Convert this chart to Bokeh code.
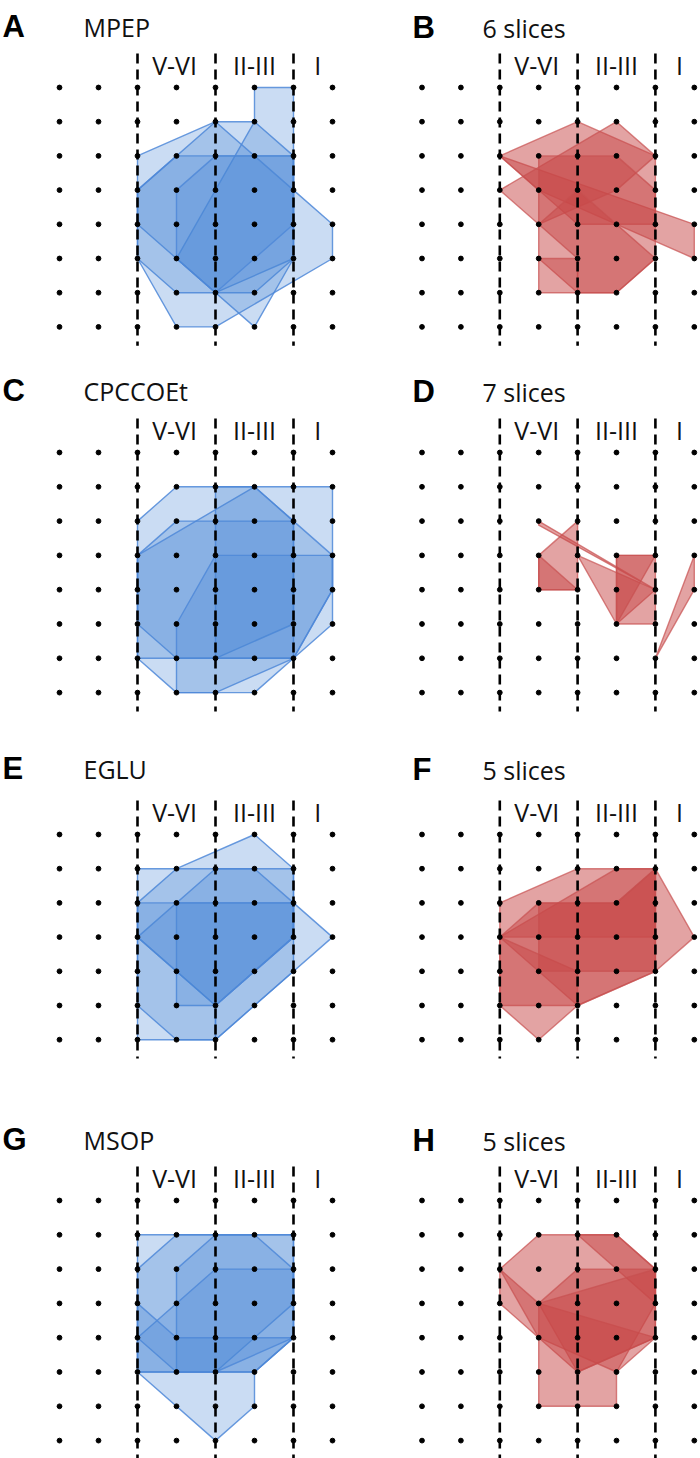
from bokeh.plotting import figure
from bokeh.layouts import column, row
from bokeh.models import Range1d
from bokeh.core.properties import value
from bokeh.embed import file_html
from bokeh.resources import INLINE

# ---------------- data (grid coordinates: column index, row index from top) ----------------
N_COLS = 8
BOUNDARY_COLS = [2, 4, 6]
LAYER_LABELS = ["V-VI", "II-III", "I"]
LAYER_LABEL_COLS = [2.95, 5.0, 6.62]

panel_letters = ["A", "B", "C", "D", "E", "F", "G", "H"]
panel_titles = ["MPEP", "6 slices", "CPCCOEt", "7 slices", "EGLU", "5 slices", "MSOP", "5 slices"]
panel_rows = [8, 8, 8, 8, 7, 7, 8, 8]
panel_kind = ["blue", "red", "blue", "red", "blue", "red", "blue", "red"]

poly_A = [
    [(2, 2), (4, 1), (5, 1), (6, 2), (6, 5), (5, 6), (3, 6), (2, 5)],
    [(2, 3), (3, 2), (6, 2), (6, 5), (4, 6), (2, 4)],
    [(5, 1), (5, 0), (6, 0), (6, 5), (5, 7), (3, 5)],
    [(2, 5), (2, 3), (4, 1), (6, 3), (7, 4), (7, 5), (4, 7), (3, 7)],
    [(3, 3), (4, 2), (6, 2), (6, 4), (4, 6), (3, 5)],
]
poly_B = [
    [(2, 2), (7, 4), (7, 5), (3, 3)],
    [(2, 2), (4, 1), (6, 2), (6, 4), (4, 4)],
    [(2, 3), (5, 1), (6, 2), (5, 3), (3, 4)],
    [(3, 2), (5, 2), (6, 3), (6, 5), (5, 6), (4, 6), (3, 5)],
    [(3, 5), (4, 5), (4, 6), (3, 6)],
    [(3, 4), (4, 3), (6, 5), (5, 6), (4, 6), (4, 5)],
]
poly_C = [
    [(2, 2), (3, 1), (7, 1), (7, 5), (6, 6), (5, 7), (3, 7), (2, 6)],
    [(2, 3), (3, 2), (6, 2), (6, 6), (3, 6), (2, 5)],
    [(2, 3), (5, 1), (6, 2), (6, 5), (4, 6), (2, 6)],
    [(4, 1), (5, 1), (6, 2), (7, 3), (7, 4), (6, 6), (4, 6)],
    [(3, 5), (4, 3), (7, 3), (7, 4), (6, 6), (4, 7), (3, 7)],
]
poly_D = [
    [(3, 2), (6, 4), (3, 2.12)],
    [(3, 3), (4, 2), (4, 4), (3, 4)],
    [(3, 3), (4, 4), (3, 4)],
    [(4, 3), (6, 4), (5, 5)],
    [(5, 3), (6, 3), (6, 5), (5, 5)],
    [(5, 3), (6, 3), (5, 5)],
    [(6, 6), (7, 3), (7, 4)],
]
poly_E = [
    [(2, 2), (3, 1), (5, 0), (6, 1), (6, 3), (5, 4), (4, 5), (2, 3)],
    [(2, 1), (6, 1), (6, 4), (4, 6), (2, 6)],
    [(2, 3), (4, 1), (5, 1), (6, 2), (7, 3), (4, 6), (4, 5)],
    [(3, 2), (6, 2), (6, 3), (4, 5), (3, 5)],
    [(2, 2), (6, 2), (6, 3), (4, 5), (4, 6), (3, 6), (2, 5)],
]
poly_F = [
    [(2, 2), (4, 1), (6, 1), (7, 3), (6, 4), (4, 5), (3, 5), (2, 5)],
    [(2, 3), (5, 1), (6, 1), (6, 3), (5, 3)],
    [(2, 3), (3, 2), (5, 2), (6, 1), (6, 4), (4, 5)],
    [(2, 3), (4, 4), (4, 5), (3, 6), (2, 5)],
    [(3, 2), (5, 2), (6, 1), (6, 4), (3, 4)],
]
poly_G = [
    [(2, 1), (6, 1), (6, 4), (5, 5), (2, 5)],
    [(2, 2), (3, 1), (6, 1), (6, 4), (5, 5), (5, 6), (4, 7), (2, 5)],
    [(3, 2), (4, 1), (5, 1), (6, 2), (6, 3), (4, 5), (3, 5)],
    [(2, 4), (4, 2), (6, 2), (6, 4), (5, 5), (3, 5)],
    [(2, 3), (3, 4), (6, 4), (4, 5), (3, 5), (2, 5)],
]
poly_H = [
    [(2, 2), (3, 1), (5, 1), (6, 2), (6, 3), (5, 5), (3, 4), (2, 3)],
    [(4, 1), (5, 1), (6, 2), (6, 3)],
    [(3, 3), (4, 2), (6, 2), (6, 4), (4, 5)],
    [(2, 2), (3, 3), (6, 4), (4, 5), (3, 4)],
    [(3, 3), (6, 2), (6, 4), (5, 5), (5, 6), (3, 6)],
]
panel_polys = [poly_A, poly_B, poly_C, poly_D, poly_E, poly_F, poly_G, poly_H]

# ---------------- layout geometry (reference pixel space 700 x 1458) ----------------
col_bounds = [(0, 350), (350, 700)]
row_bounds = [(0, 356), (356, 722), (722, 1082), (1082, 1458)]
col0_x = [59.0, 421.5]
col_dx = [39.0, 38.9]
row0_y = [87.0, 452.0, 834.0, 1200.0]
row_dy = [34.2, 34.3, 34.2, 34.3]
letter_x = [2.0, 412.0]
title_x = [83.0, 482.0]
title_base = [26.0, 390.0, 768.0, 1139.0]

STYLE = {
    "blue": dict(fill="#4a86d6", fill_alpha=0.29, line="#4f88d8", line_alpha=0.85),
    "red": dict(fill="#c84848", fill_alpha=0.5, line="#c85050", line_alpha=0.7),
}


def make_panel(i):
    r, c = divmod(i, 2)
    xl, xr = col_bounds[c]
    yt, yb = row_bounds[r]
    x0, dx = col0_x[c], col_dx[c]
    y0, dy = row0_y[r], row_dy[r]

    def gx(px):
        return (px - x0) / dx

    def gy(py):
        return (py - y0) / dy

    p = figure(width=xr - xl, height=yb - yt,
               x_range=Range1d(gx(xl), gx(xr)),
               y_range=Range1d(gy(yb), gy(yt)),
               toolbar_location=None, output_backend="svg",
               x_axis_type=None, y_axis_type=None,
               min_border=0, outline_line_color=None)
    p.grid.visible = False
    p.background_fill_color = "white"
    p.border_fill_color = "white"

    st = STYLE[panel_kind[i]]
    polys = panel_polys[i]
    p.patches([[v[0] for v in poly] for poly in polys],
              [[v[1] for v in poly] for poly in polys],
              fill_color=st["fill"], fill_alpha=st["fill_alpha"],
              line_color=st["line"], line_alpha=st["line_alpha"], line_width=1.4)

    nrows = panel_rows[i]
    for bc in BOUNDARY_COLS:
        p.line([bc, bc], [gy(y0 - 34), nrows - 1 + 0.55], line_color="black",
               line_width=2.6, line_dash="10 6")

    xs = [cx for ry in range(nrows) for cx in range(N_COLS)]
    ys = [ry for ry in range(nrows) for cx in range(N_COLS)]
    p.scatter(xs, ys, size=4.8, color="black")

    p.text(x=LAYER_LABEL_COLS, y=[gy(y0 - 23)] * len(LAYER_LABELS), text=LAYER_LABELS,
           text_align="center", text_baseline="alphabetic",
           text_font=value("Open Sans"), text_font_size="25px", text_color="#111111")

    base = title_base[r] + (1 if c == 1 else 0)
    p.text(x=[gx(letter_x[c])], y=[gy(base)], text=[panel_letters[i]],
           text_align="left", text_baseline="alphabetic",
           text_font=value("Liberation Sans"), text_font_style="bold",
           text_font_size="31px", text_color="black")
    p.text(x=[gx(title_x[c])], y=[gy(base)], text=[panel_titles[i]],
           text_align="left", text_baseline="alphabetic",
           text_font=value("Open Sans"), text_font_size="25px", text_color="#111111")
    return p


panels = [make_panel(i) for i in range(8)]
layout = column(*[row(panels[2 * k], panels[2 * k + 1], spacing=0) for k in range(4)], spacing=0)

open("out.html", "w").write(file_html(layout, INLINE))
